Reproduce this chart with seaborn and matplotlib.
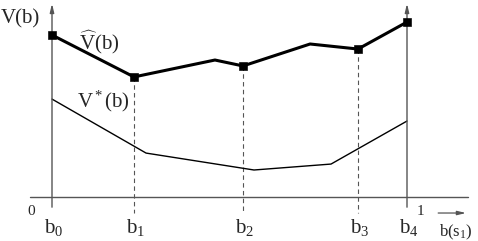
import matplotlib
matplotlib.use("Agg")
import matplotlib.pyplot as plt
import seaborn as sns
import numpy as np
import pandas as pd

# data (x in [0,1] belief, y value units)
b_names = ["b$_0$", "b$_1$", "b$_2$", "b$_3$", "b$_4$"]
b_pos = [0.0, 0.231, 0.538, 0.862, 1.0]
upper_x = [0.0, 0.231, 0.459, 0.538, 0.727, 0.862, 1.0]
upper_y = [0.900, 0.667, 0.761, 0.728, 0.850, 0.822, 0.972]
marker_y = [0.900, 0.667, 0.728, 0.822, 0.972]
lower_x = [0.0, 0.265, 0.569, 0.786, 1.0]
lower_y = [0.544, 0.244, 0.150, 0.183, 0.422]

sns.set_style("white")
plt.rcParams["font.family"] = ["Liberation Serif", "DejaVu Serif"]
plt.rcParams["mathtext.fontset"] = "custom"
plt.rcParams["mathtext.rm"] = "Liberation Serif"
plt.rcParams["mathtext.it"] = "Liberation Serif:italic"

fig = plt.figure(figsize=(4.78, 2.41), dpi=100)
ax = fig.add_axes([0, 0, 1, 1])
ax.set_xlim(-52 / 355, 426 / 355)
ax.set_ylim(-44 / 180, 197 / 180)
for s in ax.spines.values():
    s.set_visible(False)
ax.set_xticks([])
ax.set_yticks([])

axc = "#555555"
# axes lines
ax.plot([-0.062, 1.172], [0, 0], color=axc, lw=1.0)
ax.annotate("", xy=(0, 1.09), xytext=(0, -0.072),
            arrowprops=dict(arrowstyle="-|>,head_length=0.5,head_width=0.12", color=axc, lw=1.0))
ax.annotate("", xy=(1, 1.09), xytext=(1, -0.072),
            arrowprops=dict(arrowstyle="-|>,head_length=0.5,head_width=0.12", color=axc, lw=1.0))

# dashed drop lines
for xp, yp in zip(b_pos[1:4], marker_y[1:4]):
    ax.plot([xp, xp], [yp, -0.089], color="#555555", lw=0.8, ls=(0, (4, 3)))

df_u = pd.DataFrame({"x": upper_x, "y": upper_y})
df_l = pd.DataFrame({"x": lower_x, "y": lower_y})
df_m = pd.DataFrame({"x": b_pos, "y": marker_y})
sns.lineplot(data=df_u, x="x", y="y", ax=ax, color="black", lw=2.2, sort=False)
sns.lineplot(data=df_l, x="x", y="y", ax=ax, color="black", lw=1.0, sort=False)
sns.scatterplot(data=df_m, x="x", y="y", ax=ax, color="black", marker="s", s=30, edgecolor="black", zorder=5)
ax.set_xlabel("")
ax.set_ylabel("")

# labels
fs = 15
ax.text(-0.145, 0.99, "V(b)", fontsize=fs, ha="left", va="center")
ax.text(0.075, 0.86, r"$\widehat{\mathrm{V}}$(b)", fontsize=fs, ha="left", va="center")
ax.text(0.07, 0.53, r"V$^*$(b)", fontsize=fs, ha="left", va="center")
for name, xp in zip(b_names, b_pos):
    ax.text(xp + 0.004, -0.167, name, fontsize=fs, ha="center", va="center")
ax.text(-0.059, -0.078, "0", fontsize=11, ha="center", va="center")
ax.text(1.039, -0.078, "1", fontsize=11, ha="center", va="center")
ax.annotate("", xy=(1.174, -0.089), xytext=(1.08, -0.089),
            arrowprops=dict(arrowstyle="-|>,head_length=0.5,head_width=0.12", color=axc, lw=0.9))
ax.text(1.138, -0.196, r"b(s$_1$)", fontsize=12, ha="center", va="center")

fig.savefig("out.png", dpi=100)
